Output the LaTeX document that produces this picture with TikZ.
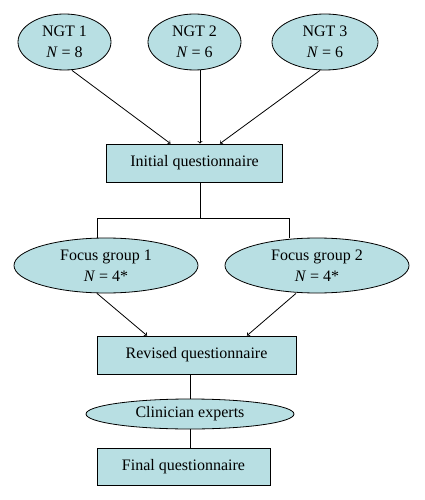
\documentclass[tikz,border=0pt]{standalone}
\usepackage{fontspec}
\setmainfont{Liberation Serif}
\usepackage{tikz}
\usetikzlibrary{positioning}
\usetikzlibrary{arrows}
\usetikzlibrary{shapes.geometric}
\definecolor{qfill}{RGB}{184,223,227}
\begin{document}
\begin{tikzpicture}[node distance=2cm,on grid,line width=0.8pt,
    font=\fontsize{16}{21}\selectfont,
    group/.style={ellipse,draw,fill=qfill,inner sep=0pt,align=center},
    quest/.style={rectangle,draw,fill=qfill,inner sep=0pt,minimum height=38pt}]
   \useasboundingbox (-194.5pt,-458pt) rectangle (229.5pt,42pt);
   \node[group,minimum width=93pt,minimum height=56pt] (ngt_2) {NGT 2\\\textit{N} = 6};
   \node[group,minimum width=93pt,minimum height=56pt] (ngt_1) [left=130pt of ngt_2] {NGT 1\\\textit{N} = 8};
   \node[group,minimum width=106pt,minimum height=56pt] (ngt_3) [right=130.5pt of ngt_2] {NGT 3\\\textit{N} = 6};
   \node[quest,minimum width=176pt] (initial) [below=121pt of ngt_2] {Initial questionnaire};
   \node[group,minimum width=184pt,minimum height=55pt] (focus_1) [below left=102.5pt and 88.5pt of initial] {Focus group 1\\\textit{N} = 4*};
   \node[group,minimum width=184pt,minimum height=55pt] (focus_2) [below right=102.5pt and 122.5pt of initial] {Focus group 2\\\textit{N} = 4*};
   \node[quest,minimum width=199pt] (revised) [below=192pt of initial,xshift=2pt] {Revised questionnaire};
   \node[group,minimum width=208pt,minimum height=30pt] (clinician) [below=59pt of revised,xshift=-6.5pt] {Clinician experts};
   \node[quest,minimum width=173pt,minimum height=37pt] (final) [below=52.5pt of clinician,xshift=-6.5pt] {Final questionnaire};
    \path[->] 
    ([xshift=7.5pt]ngt_1.south) edge ([xshift=-24pt]initial.north)
    ([xshift=5.5pt]ngt_2.south) edge ([xshift=5.5pt]initial.north)
    ([xshift=-5pt]ngt_3.south) edge ([xshift=25.5pt]initial.north)
    ([xshift=-9pt]focus_1.south) edge ([xshift=-49.5pt]revised.north)
    ([xshift=-21pt]focus_2.south) edge ([xshift=50.5pt]revised.north);
   \draw ([xshift=5.5pt]initial.south) -- ++(0,-36pt) coordinate (split);
   \draw (split) -| ([xshift=-9pt]focus_1.north);
   \draw (split) -| ([xshift=-28pt]focus_2.north);
   \draw ([xshift=-6.5pt]revised.south) -- (clinician.north);
   \draw (clinician.south) -- (clinician.south |- final.north);
\end{tikzpicture}
\end{document}
